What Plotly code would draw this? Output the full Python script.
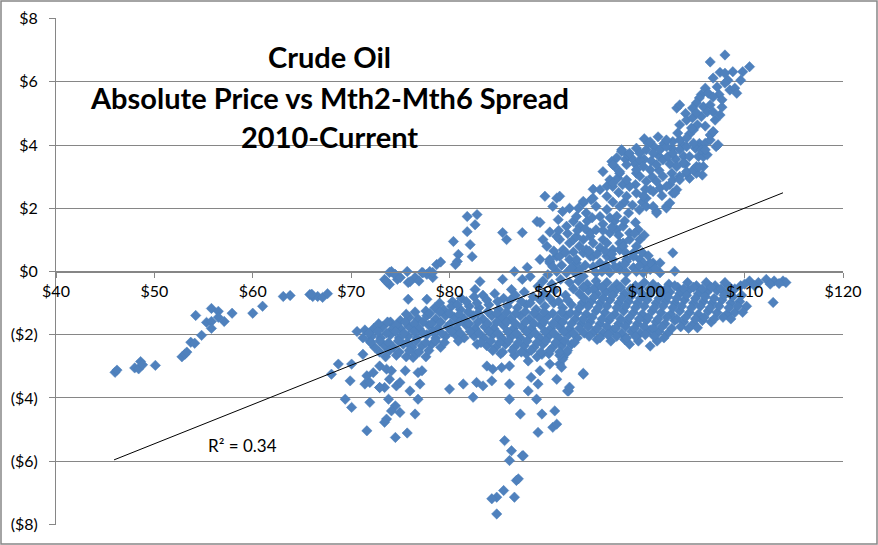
import plotly.graph_objects as go

# ---------------- data (price $/bbl, Mth2-Mth6 spread $) ----------------
left_tail = [(46.0,-3.19),(46.2,-3.12),(48.0,-3.05),(48.4,-3.08),(48.6,-2.85),(48.8,-2.95),(50.1,-2.97),
             (52.8,-2.70),(53.1,-2.62),(53.3,-2.55),(53.7,-2.24),(54.1,-2.27),(54.8,-2.02),(54.2,-1.39),
             (55.3,-1.61),(55.8,-1.58),(55.8,-1.80),(55.8,-1.17),(56.5,-1.26),(56.5,-1.45),(57.1,-1.58),
             (57.9,-1.32),(60.0,-1.32),(61.0,-1.10),(63.1,-0.79),(63.8,-0.76),(65.8,-0.73),(66.1,-0.79),
             (66.6,-0.79),(66.0,-0.72),(67.1,-0.82),(67.6,-0.70)]

upper_scatter = [(81.8,1.74),(82.8,1.80),(82.6,1.48),(81.8,1.26),(80.4,0.95),(82.1,0.85),(82.3,0.47),
                 (80.9,0.54),(80.8,0.32),(80.6,0.22),(74.1,0.00),(74.7,-0.25),(75.7,0.00),(75.8,-0.35),
                 (76.5,-0.19),(77.2,-0.03),(77.7,-0.09),(78.0,0.00),(78.7,0.22),(78.3,-0.19),(73.4,-0.25),
                 (73.9,-0.41),(75.8,-0.88),(77.7,-0.88),(85.4,1.23),(85.8,1.01),(87.4,1.23),(88.9,1.58),
                 (83.1,-0.32),(82.6,-0.57),(85.4,-0.25),(86.3,-0.57),(86.6,0.00),(87.9,0.13),(89.2,0.38),
                 (90.2,0.32),(88.2,-0.16),(87.4,-0.25),(89.0,-0.47),(74.5,-0.10),(76.9,-0.30),(79.1,0.30),
                 (73.9,-0.03),(74.45,-0.09),(73.6,-0.32),(75.0,-0.19),(76.0,-0.32),(77.3,-0.04),(78.3,-0.03)]

lower_scatter = [(68.7,-2.93),(68.0,-3.25),(70.05,-2.93),(69.9,-3.46),(69.4,-4.04),(70.05,-4.30),(71.9,-4.14),
                 (71.6,-5.04),(71.4,-3.56),(71.6,-3.30),(72.25,-3.20),(72.9,-3.67),(73.6,-3.09),(73.9,-3.41),
                 (74.1,-3.14),(73.4,-3.67),(74.6,-3.62),(74.96,-3.51),(73.8,-4.04),(74.5,-4.25),(74.1,-4.41),
                 (74.96,-4.46),(73.6,-4.67),(73.4,-4.77),(76.5,-4.51),(74.5,-5.25),(75.7,-5.11),(75.98,-3.78),
                 (76.8,-4.04),(77.0,-3.56),(76.8,-3.20),(77.2,-3.14),(75.5,-3.14),(76.3,-2.72),(80.0,-3.72),
                 (81.4,-3.56),(82.4,-3.98),(82.75,-3.51),(83.4,-3.62),(84.3,-3.46),(83.8,-2.99),(84.4,-3.09),
                 (85.3,-3.04),(86.1,-2.99),(86.1,-3.56),(86.1,-4.04),(87.2,-4.51),(88.0,-3.78),(88.0,-2.83),
                 (88.3,-3.35),(89.0,-3.56),(88.85,-4.04),(89.2,-3.14),(89.4,-2.62),(89.4,-4.51),(90.2,-2.93),
                 (90.7,-4.41),(90.9,-3.41),(90.5,-4.93),(90.9,-4.83),(89.0,-5.09),(91.2,-2.93),(91.55,-2.72),
                 (91.9,-2.57),(92.1,-3.78),(93.6,-3.25),(92.0,-3.78),(87.4,-5.83),(91.5,-2.78),(91.4,-3.03),
                 (93.6,-3.22),(92.2,-3.66),(71.2,-2.62),(72.9,-2.99),(71.9,-3.51),(72.9,-3.67),(71.9,-2.20)]

spike = [(85.6,-5.35),(86.3,-5.67),(86.1,-5.98),(87.5,-5.83),(86.8,-6.61),(87.0,-6.56),(85.5,-6.93),
         (84.8,-7.14),(84.3,-7.19),(86.6,-7.14),(84.8,-7.67)]

band_b = [(80.3,-0.95),(81.2,-0.85),(82.5,-0.80),(83.4,-0.75),(84.6,-0.70),(85.5,-0.85),(86.7,-0.75),
          (87.6,-0.65),(88.5,-0.80),(89.6,-0.70),(90.7,-0.60),(91.8,-0.75),(92.6,-0.55),
          (77.6,-1.25),(78.5,-1.15),(79.4,-1.20),(80.2,-1.10),(81.1,-1.20),(82.0,-1.10),(83.0,-1.15),
          (84.0,-1.05),(85.0,-1.20),(85.9,-1.10),(86.9,-1.15),(87.8,-1.05),(88.8,-1.20),(89.7,-1.10),
          (90.6,-1.00),(91.5,-1.15),(92.4,-1.05),
          (74.0,-1.60),(75.0,-1.55),(75.9,-1.45),(76.8,-1.50),(77.7,-1.40),(78.6,-1.50),(79.6,-1.40),
          (80.5,-1.45),(81.5,-1.50),(82.4,-1.40),(83.4,-1.50),(84.3,-1.40),(85.3,-1.45),(86.2,-1.50),
          (87.2,-1.40),(88.1,-1.50),(89.1,-1.45),(90.0,-1.40),(91.0,-1.50),(91.9,-1.40),(92.8,-1.50),
          (70.6,-1.90),(71.4,-1.85),(72.3,-1.80),(73.2,-1.75),(74.1,-1.85),(75.0,-1.80),(75.9,-1.75),
          (76.9,-1.80),(77.9,-1.70),(78.8,-1.80),(79.8,-1.75),(80.7,-1.80),(81.7,-1.70),(82.6,-1.80),
          (83.6,-1.75),(84.5,-1.80),(85.5,-1.70),(86.5,-1.80),(87.4,-1.75),(88.3,-1.80),(89.3,-1.70),
          (90.3,-1.80),(91.2,-1.75),(92.2,-1.80),
          (71.2,-2.10),(72.1,-2.05),(73.0,-2.10),(74.0,-2.00),(74.9,-2.10),(75.8,-2.05),(76.7,-2.10),
          (77.7,-2.00),(78.6,-2.10),(79.6,-2.05),(80.6,-2.00),(81.5,-2.10),(82.5,-2.05),(83.5,-2.10),
          (84.4,-2.00),(85.3,-2.10),(86.3,-2.05),(87.2,-2.10),(88.2,-2.00),(89.2,-2.10),(90.1,-2.05),
          (91.1,-2.10),(92.1,-2.00),(93.0,-2.10),
          (72.4,-2.40),(73.4,-2.35),(74.3,-2.40),(75.3,-2.30),(76.2,-2.40),(77.2,-2.35),(78.2,-2.30),
          (79.1,-2.40),(82.8,-2.30),(83.8,-2.35),(84.7,-2.40),(85.7,-2.30),(86.6,-2.40),(87.6,-2.35),
          (88.6,-2.40),(89.5,-2.30),(90.5,-2.40),(91.4,-2.35),(92.4,-2.30),
          (73.5,-2.70),(74.6,-2.65),(75.6,-2.70),(76.6,-2.60),(77.6,-2.70),(85.2,-2.60),(86.6,-2.65),
          (87.8,-2.60),(88.9,-2.70),(90.1,-2.60),(91.2,-2.65),
          (89.5,-0.30),(90.4,-0.40),(91.3,-0.25),(92.2,-0.35),(93.1,-0.30),(94.0,-0.40),(94.9,-0.30)]

band_b_fill = [(79.0,-1.00),(80.8,-1.05),(81.7,-0.95),(82.8,-1.00),(83.8,-0.90),(84.9,-0.95),(86.2,-0.90),
               (87.3,-0.95),(88.2,-1.00),(89.2,-0.90),(90.2,-0.85),(91.1,-0.95),(92.0,-0.90),
               (75.6,-1.35),(76.5,-1.28),(78.0,-1.33),(79.0,-1.28),(80.0,-1.32),(81.0,-1.36),(81.9,-1.28),
               (82.9,-1.31),(83.9,-1.27),(84.8,-1.33),(85.8,-1.29),(86.7,-1.34),(87.7,-1.27),(88.6,-1.32),
               (89.6,-1.28),(90.5,-1.33),(91.4,-1.29),(92.3,-1.31),
               (72.8,-1.65),(73.7,-1.60),(74.6,-1.70),(75.5,-1.60),(76.4,-1.65),(77.3,-1.60),(78.2,-1.65),
               (79.1,-1.60),(80.1,-1.65),(81.0,-1.60),(82.0,-1.65),(82.9,-1.60),(83.9,-1.65),(84.8,-1.60),
               (85.8,-1.60),(86.7,-1.65),(87.7,-1.60),(88.6,-1.65),(89.6,-1.60),(90.5,-1.65),(91.5,-1.60),
               (92.4,-1.65),
               (71.8,-1.95),(72.7,-1.90),(73.6,-1.95),(74.5,-1.90),(75.4,-1.95),(76.4,-1.90),(77.3,-1.95),
               (78.3,-1.90),(79.2,-1.95),(80.2,-1.90),(81.1,-1.95),(82.1,-1.90),(83.0,-1.95),(84.0,-1.90),
               (84.9,-1.95),(85.9,-1.90),(86.8,-1.95),(87.8,-1.90),(88.7,-1.95),(89.7,-1.90),(90.6,-1.95),
               (91.6,-1.90),(92.6,-1.95),
               (72.0,-2.25),(72.9,-2.20),(73.8,-2.25),(74.8,-2.20),(75.7,-2.25),(76.6,-2.20),(77.6,-2.25),
               (78.6,-2.20),(79.5,-2.25),(80.9,-2.20),(83.2,-2.25),(84.2,-2.20),(85.1,-2.25),(86.0,-2.20),
               (87.0,-2.25),(87.9,-2.20),(88.9,-2.25),(89.8,-2.20),(90.8,-2.25),(91.7,-2.20),(92.7,-2.25),
               (72.9,-2.55),(73.9,-2.50),(74.9,-2.55),(75.9,-2.50),(76.9,-2.55),(77.9,-2.50),(84.4,-2.50),
               (85.4,-2.55),(86.4,-2.50),(87.3,-2.55),(88.3,-2.50),(89.3,-2.55),(90.2,-2.50),(91.2,-2.55),
               (92.0,-2.50)]

band_c = [(95.1,-0.45),(96.0,-0.35),(97.0,-0.40),(97.9,-0.30),(98.9,-0.45),(99.8,-0.35),(100.7,-0.40),
          (102.3,-0.40),(103.2,-0.50),(104.2,-0.35),(105.1,-0.45),(106.1,-0.35),(107.0,-0.45),(108.0,-0.35),
          (109.6,-0.45),(110.5,-0.30),(111.4,-0.35),(112.2,-0.25),(113.0,-0.30),(113.9,-0.30),(114.2,-0.35),
          (93.2,-0.70),(94.1,-0.60),(95.0,-0.70),(95.9,-0.65),(96.9,-0.60),(97.8,-0.70),(98.7,-0.65),
          (99.6,-0.70),(100.6,-0.60),(101.5,-0.70),(102.4,-0.65),(103.4,-0.70),(104.3,-0.60),(105.3,-0.70),
          (106.2,-0.65),(107.2,-0.60),(108.1,-0.70),(109.0,-0.55),
          (93.5,-1.00),(94.4,-0.95),(95.3,-1.00),(96.3,-0.90),(97.2,-1.00),(98.2,-0.95),(99.1,-1.00),
          (100.1,-0.90),(101.0,-1.00),(102.0,-0.95),(102.9,-1.00),(103.9,-0.90),(104.8,-1.00),(105.8,-0.95),
          (106.7,-1.00),(107.7,-0.90),(108.6,-1.00),(109.5,-0.95),(110.2,-1.10),(112.9,-0.98),
          (93.0,-1.30),(93.9,-1.35),(94.9,-1.25),(95.8,-1.30),(96.8,-1.35),(97.7,-1.25),(98.7,-1.30),
          (99.6,-1.35),(100.6,-1.25),(101.5,-1.30),(102.5,-1.35),(103.4,-1.25),(104.4,-1.30),(105.3,-1.35),
          (106.3,-1.25),(107.2,-1.30),(108.2,-1.35),(109.0,-1.30),(109.8,-1.29),
          (93.4,-1.65),(94.3,-1.60),(95.3,-1.65),(96.2,-1.55),(97.2,-1.65),(98.1,-1.60),(99.1,-1.65),
          (100.0,-1.55),(101.0,-1.60),(101.9,-1.65),(102.9,-1.55),(103.8,-1.60),(104.8,-1.65),(105.7,-1.55),
          (106.6,-1.60),
          (93.7,-1.95),(94.7,-1.90),(95.6,-1.95),(96.6,-1.85),(97.5,-1.95),(98.5,-1.90),(99.4,-1.95),
          (100.4,-1.85),(101.3,-1.90),(102.2,-1.95),
          (95.0,-2.15),(96.4,-2.20),(97.8,-2.15),(98.3,-2.30),(99.2,-2.20),(100.4,-2.36),(101.1,-2.20)]

band_c_fill = [(93.6,-0.50),(94.6,-0.55),(95.5,-0.50),(96.5,-0.55),(97.4,-0.50),(98.4,-0.55),(99.3,-0.50),
               (100.3,-0.55),(101.2,-0.50),(102.0,-0.55),(102.9,-0.45),(103.8,-0.55),(104.8,-0.50),
               (105.7,-0.55),(106.6,-0.50),(107.6,-0.55),(108.5,-0.50),(110.0,-0.40),(111.0,-0.45),
               (112.6,-0.40),(113.5,-0.38),
               (93.7,-0.85),(94.7,-0.80),(95.6,-0.85),(96.6,-0.75),(97.5,-0.85),(98.4,-0.80),(99.4,-0.85),
               (100.3,-0.75),(101.3,-0.85),(102.2,-0.80),(103.1,-0.85),(104.1,-0.75),(105.0,-0.85),
               (106.0,-0.80),(106.9,-0.85),(107.9,-0.75),(108.8,-0.80),(109.7,-0.75),
               (93.2,-1.15),(94.1,-1.10),(95.1,-1.15),(96.0,-1.10),(97.0,-1.15),(97.9,-1.10),(98.9,-1.15),
               (99.8,-1.10),(100.8,-1.15),(101.7,-1.10),(102.7,-1.15),(103.6,-1.10),(104.6,-1.15),
               (105.5,-1.10),(106.5,-1.15),(107.4,-1.10),(108.4,-1.15),(109.3,-1.10),
               (93.6,-1.50),(94.5,-1.45),(95.5,-1.50),(96.4,-1.45),(97.4,-1.50),(98.3,-1.45),(99.3,-1.50),
               (100.2,-1.45),(101.2,-1.50),(102.1,-1.45),(103.1,-1.50),(104.0,-1.45),(105.0,-1.50),
               (105.9,-1.45),(106.9,-1.50),(107.8,-1.45),(108.6,-1.50),
               (93.2,-1.80),(94.1,-1.75),(95.0,-1.80),(96.0,-1.75),(96.9,-1.80),(97.9,-1.75),(98.8,-1.80),
               (99.8,-1.75),(100.7,-1.80),(101.6,-1.75),(102.6,-1.80),(103.5,-1.75),(104.3,-1.80),
               (105.2,-1.78),
               (94.2,-2.05),(95.3,-2.10),(96.1,-2.00),(97.0,-2.05),(98.0,-2.10),(98.9,-2.05),(99.9,-2.00),
               (100.8,-2.05),(101.8,-2.10)]

branch_low = [(90.0,-0.10),(90.9,0.00),(91.9,-0.04),(92.8,-0.05),(93.6,-0.15),(93.25,0.06),(94.9,-0.04),
              (95.5,0.00),(96.0,0.06),(96.3,-0.04),(97.3,0.06),(98.0,-0.04),(98.7,0.12),(99.0,0.00),
              (99.7,-0.04),(100.4,0.06),(101.4,-0.04),(102.9,0.01),(102.7,0.59),
              (95.3,0.27),(94.3,0.48),(92.9,0.27),(92.2,0.38),(90.9,0.48),(90.2,0.27),(98.7,0.59),
              (99.35,0.38),(100.0,0.17),(100.7,0.27),(98.0,0.38),(96.0,0.48),(91.2,0.48),(92.9,0.38),
              (94.6,0.48),(96.6,0.38),(98.7,0.48),(100.4,0.27),(101.4,0.27),(90.2,0.38),(98.0,0.32),
              (97.3,0.17),(99.7,0.27),(93.6,0.59),
              (89.9,0.80),(91.55,0.69),(92.2,0.90),(91.2,1.01),(93.6,1.01),(94.6,0.90),(95.6,1.01),
              (97.3,0.90),(96.6,0.69),(96.0,0.90),(97.65,0.90),(99.35,1.01),(95.3,0.75),(97.3,0.69),
              (93.9,0.69),(97.65,0.80),(99.0,0.80),(98.3,1.01),(92.6,1.01),(90.9,1.11),(94.3,1.11),
              (89.5,1.01),
              (91.05,1.64),(91.9,1.43),(92.6,1.59),(93.25,1.43),(92.9,1.11),(94.3,1.22),(94.9,1.32),
              (96.3,1.22),(97.0,1.32),(97.65,1.43),(98.3,1.22),(99.2,1.32),(89.2,1.55),(95.6,1.50),
              (96.8,1.60),(98.9,1.55)]

branch_fill = [(90.5,0.15),(91.4,0.20),(92.4,0.12),(93.8,0.20),(94.6,0.15),(95.9,0.20),(96.8,0.15),
               (97.8,0.22),(99.3,0.18),(100.9,0.10),
               (90.6,0.65),(91.8,0.60),(92.6,0.62),(93.2,0.80),(94.2,0.65),(95.0,0.55),(95.8,0.65),
               (96.5,0.55),(97.9,0.60),(99.6,0.60),(100.2,0.50),
               (90.2,1.25),(91.1,1.30),(92.0,1.20),(93.0,1.30),(93.8,1.35),(95.6,1.30),(96.5,1.40),
               (97.2,1.15),(98.8,1.20),(99.8,1.15),
               (91.5,1.90),(92.2,2.00),(93.1,2.00),(94.0,1.60),(94.5,1.70),(96.3,1.70),(96.6,2.20),
               (97.8,2.20),(98.6,2.10),(99.6,2.20),(97.8,1.60),
               (94.6,2.60),(96.0,2.70),(97.6,2.75),(98.9,2.75),(99.9,2.60),(101.6,2.40),(102.4,2.75),
               (101.3,3.20),(100.6,3.00),
               (97.0,3.60),(97.9,3.55),(99.0,3.90),(99.8,3.55),(100.5,3.50),(101.3,3.65),(101.8,4.05),
               (102.6,3.90),(103.0,3.55),(103.8,3.65),(104.4,4.35),(105.4,4.05),(105.0,3.90),(103.7,4.00),
               (104.0,3.40),(102.4,3.40),(100.8,3.95),(99.8,4.20),(98.9,3.40),(104.4,2.95),(105.7,3.05),
               (104.0,5.00),(105.6,5.60),(107.4,5.60),(108.3,6.05),(107.5,6.30),(109.6,6.05),(105.6,4.90),
               (107.7,5.20),(106.0,4.60)]

branch_mid = [(93.9,1.85),(92.9,1.74),(95.3,1.74),(96.0,1.96),(97.3,2.06),(94.9,2.06),(90.5,2.06),
              (100.0,2.06),(101.05,1.90),(102.05,2.06),(100.7,2.06),(101.05,1.85),(102.05,2.01),(98.2,1.85),
              (99.3,1.95),(97.0,1.75),
              (93.6,2.17),(94.4,2.27),(89.7,2.38),(90.9,2.32),(95.3,2.59),(96.0,2.38),(98.0,2.38),
              (99.0,2.48),(100.0,2.32),(102.4,2.17),(94.6,2.32),(93.6,2.22),(91.2,2.38),(99.7,2.38),
              (100.4,2.59),(102.7,2.48),(103.1,2.59),(100.7,2.53),(101.4,2.64),(102.9,2.48),(97.2,2.50),
              (96.6,2.69),(97.1,2.96),(96.3,2.90),(98.3,2.69),(95.6,3.16),(96.6,2.80),(98.0,2.90),
              (97.3,3.11),(99.0,3.11),(97.3,3.16),(101.7,3.01),(101.05,2.85),(100.0,2.85),(99.35,3.01),
              (99.0,3.22),(102.6,3.11),(103.4,3.01),(102.7,2.90),(102.05,2.69),(103.4,2.90),(104.1,3.11),
              (105.1,3.11),(104.1,3.16),(104.8,3.22)]

branch_high = [(96.5,3.48),(96.8,3.32),(99.35,3.53),(99.7,3.32),(100.4,3.22),(101.05,3.38),(101.7,3.53),
               (102.2,3.64),(104.4,3.64),(103.75,3.43),(103.1,3.32),(98.0,3.38),(98.5,3.59),(96.6,3.38),
               (105.3,3.64),(105.1,3.32),(105.8,3.32),(105.4,3.31),(105.8,3.63),(106.2,3.69),
               (97.5,3.85),(98.1,3.69),(97.5,3.80),(98.3,3.74),(99.35,3.74),(100.0,3.85),(100.7,3.74),
               (101.4,3.85),(102.05,3.95),(102.7,3.74),(103.4,3.85),(104.1,3.95),(104.8,4.06),(100.2,4.06),
               (100.4,4.10),(105.6,3.85),(106.0,4.06),(106.0,3.85),(107.1,3.95),(107.3,4.01),(102.7,4.11),
               (103.4,4.16),(102.05,4.16),
               (101.2,4.26),(104.1,4.22),(103.2,4.38),(104.8,4.48),(106.5,4.16),(106.5,4.32),(106.8,4.42),
               (103.4,4.64),(104.1,4.79),(104.7,4.86),(105.2,4.64),(104.6,4.54),(107.0,4.79)]

branch_top = [(106.5,6.63),(108.0,6.85),(110.5,6.48),(109.8,6.32),(108.8,6.32),(108.0,6.27),
              (106.8,6.12),(107.2,5.84),(108.0,5.96),(108.5,5.74),(109.0,5.80),(109.2,5.64),
              (106.0,5.80),(106.3,5.64),(106.8,5.52),(105.4,5.49),(105.1,5.33),(105.8,5.21),(106.5,5.27),
              (107.7,5.43),(104.7,5.17),(105.1,5.02),(106.2,5.05),(103.1,5.17),(103.4,5.27),
              (106.8,5.05),(107.5,4.95),(106.8,4.42)]

trend_price = [45.9, 113.9]
trend_spread = [-5.96, 2.49]

x_ticks = [40, 50, 60, 70, 80, 90, 100, 110, 120]
x_labels = ["$40", "$50", "$60", "$70", "$80", "$90", "$100", "$110", "$120"]
y_ticks = [-8, -6, -4, -2, 0, 2, 4, 6, 8]
y_labels = ["($8)", "($6)", "($4)", "($2)", "$0", "$2", "$4", "$6", "$8"]

title_lines = ["Crude Oil", "Absolute Price vs Mth2-Mth6 Spread", "2010-Current"]
r2_text = "R² = 0.34"

# ---------------- figure ----------------
points = (left_tail + upper_scatter + lower_scatter + spike + band_b + band_b_fill + band_c + band_c_fill
          + branch_low + branch_fill + branch_mid + branch_high + branch_top)
px = [p for p, s in points]
sp = [s for p, s in points]

W, H = 878, 545
L, R, T, B = 56, 35, 18, 20
pw, ph = W - L - R, H - T - B

fig = go.Figure()
fig.add_trace(go.Scatter(x=px, y=sp, mode="markers",
                         marker=dict(symbol="diamond", size=8, color="#4F81BD",
                                     line=dict(width=0.5, color="#4A7EBB")),
                         showlegend=False, hoverinfo="skip"))
fig.add_trace(go.Scatter(x=trend_price, y=trend_spread, mode="lines",
                         line=dict(color="black", width=1), showlegend=False, hoverinfo="skip"))

grey = "#868686"
fig.update_layout(
    width=W, height=H, autosize=False,
    margin=dict(l=L, r=R, t=T, b=B, pad=0),
    paper_bgcolor="white", plot_bgcolor="white",
    font=dict(family="Lato, Carlito, Liberation Sans, sans-serif", color="black"),
    xaxis=dict(range=[40, 120], tickvals=x_ticks, ticktext=x_labels, showgrid=False,
               showline=True, linecolor=grey, linewidth=1, ticks="outside", ticklen=5,
               tickcolor=grey, anchor="free", position=0.5, zeroline=False, automargin=False,
               tickfont=dict(size=16, color="black")),
    yaxis=dict(range=[-8.02, 8.02], tickvals=y_ticks, ticktext=y_labels, showgrid=True,
               gridcolor=grey, gridwidth=1, showline=True, linecolor=grey, linewidth=1,
               ticks="outside", ticklen=6, tickcolor=grey, zeroline=False, automargin=False,
               tickfont=dict(size=16, color="black"), ticklabelstandoff=8),
)

# title lines inside plot area
for txt, ypx in zip(title_lines, [57, 97, 136]):
    fig.add_annotation(text="<b>%s</b>" % txt, xref="paper", yref="paper",
                       x=(329 - L) / pw, y=(H - B - ypx) / ph, xanchor="center", yanchor="middle",
                       showarrow=False, font=dict(size=29, color="black"))

fig.add_annotation(text=r2_text, x=59.0, y=-5.5, xref="x", yref="y", showarrow=False,
                   font=dict(size=17, color="black"), xanchor="center", yanchor="middle")

# outer chart border
fig.add_shape(type="rect", xref="paper", yref="paper",
              x0=(1 - L) / pw, x1=(877 - L) / pw, y0=(H - B - 544) / ph, y1=(H - B - 1) / ph,
              line=dict(color=grey, width=1.5), fillcolor="rgba(0,0,0,0)", layer="below")

fig.write_html("out.html", config={"displayModeBar": False},
               post_script="document.body.style.margin='0px';")
